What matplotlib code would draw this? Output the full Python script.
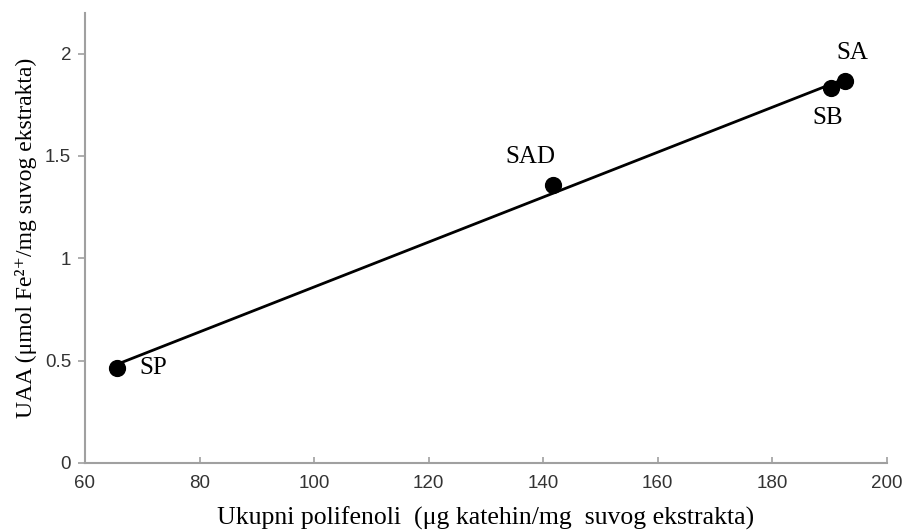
import numpy as np
import matplotlib
matplotlib.use("Agg")
import matplotlib.pyplot as plt

# data
labels = ["SP", "SAD", "SB", "SA"]
polifenoli = [65.6, 141.7, 190.2, 192.7]
uaa = [0.465, 1.36, 1.834, 1.868]
x_ticks = [60, 80, 100, 120, 140, 160, 180, 200]
y_ticks = [0, 0.5, 1, 1.5, 2]
y_tick_labels = ["0", "0.5", "1", "1.5", "2"]

# label offsets in points (dx, dy)
label_offsets = {"SP": (26, 0), "SAD": (-16, 20), "SB": (-2, -22), "SA": (5, 20)}

serif = ["Liberation Serif", "DejaVu Serif"]
sans = ["Liberation Sans", "DejaVu Sans"]

fig = plt.figure(figsize=(9.04, 5.32), dpi=100)
ax = fig.add_axes([0.094, 0.130, 0.887, 0.846])

# linear trendline over the data range
slope, intercept = np.polyfit(polifenoli, uaa, 1)
xs = np.array([min(polifenoli), max(polifenoli)])
ax.plot(xs, slope * xs + intercept, color="black", lw=2, zorder=2)

ax.scatter(polifenoli, uaa, s=130, color="black", zorder=3)

for name, x, y in zip(labels, polifenoli, uaa):
    dx, dy = label_offsets[name]
    ax.annotate(name, (x, y), xytext=(dx, dy), textcoords="offset points",
                ha="center", va="center", fontsize=18, family=serif)

ax.set_xlim(60, 200)
ax.set_ylim(0, 2.2)
ax.set_xticks(x_ticks)
ax.set_yticks(y_ticks)
ax.set_yticklabels(y_tick_labels)

for side in ["top", "right"]:
    ax.spines[side].set_visible(False)
for side in ["left", "bottom"]:
    ax.spines[side].set_color("#a0a0a0")
    ax.spines[side].set_linewidth(1.5)

ax.tick_params(axis="x", direction="in", length=4, width=1.2, color="#a0a0a0",
               labelsize=13.5, labelcolor="#333333", pad=9)
ax.tick_params(axis="y", direction="out", length=5, width=1.2, color="#a0a0a0",
               labelsize=13.5, labelcolor="#333333", pad=5)
for lbl in ax.get_xticklabels() + ax.get_yticklabels():
    lbl.set_family(sans)

ax.set_xlabel("Ukupni polifenoli  (μg katehin/mg  suvog ekstrakta)",
              fontsize=18.5, family=serif, labelpad=10)
ax.set_ylabel("UAA (μmol Fe²⁺/mg suvog ekstrakta)",
              fontsize=17, family=serif, labelpad=6)

fig.savefig("out.png", dpi=100)
plt.close(fig)
